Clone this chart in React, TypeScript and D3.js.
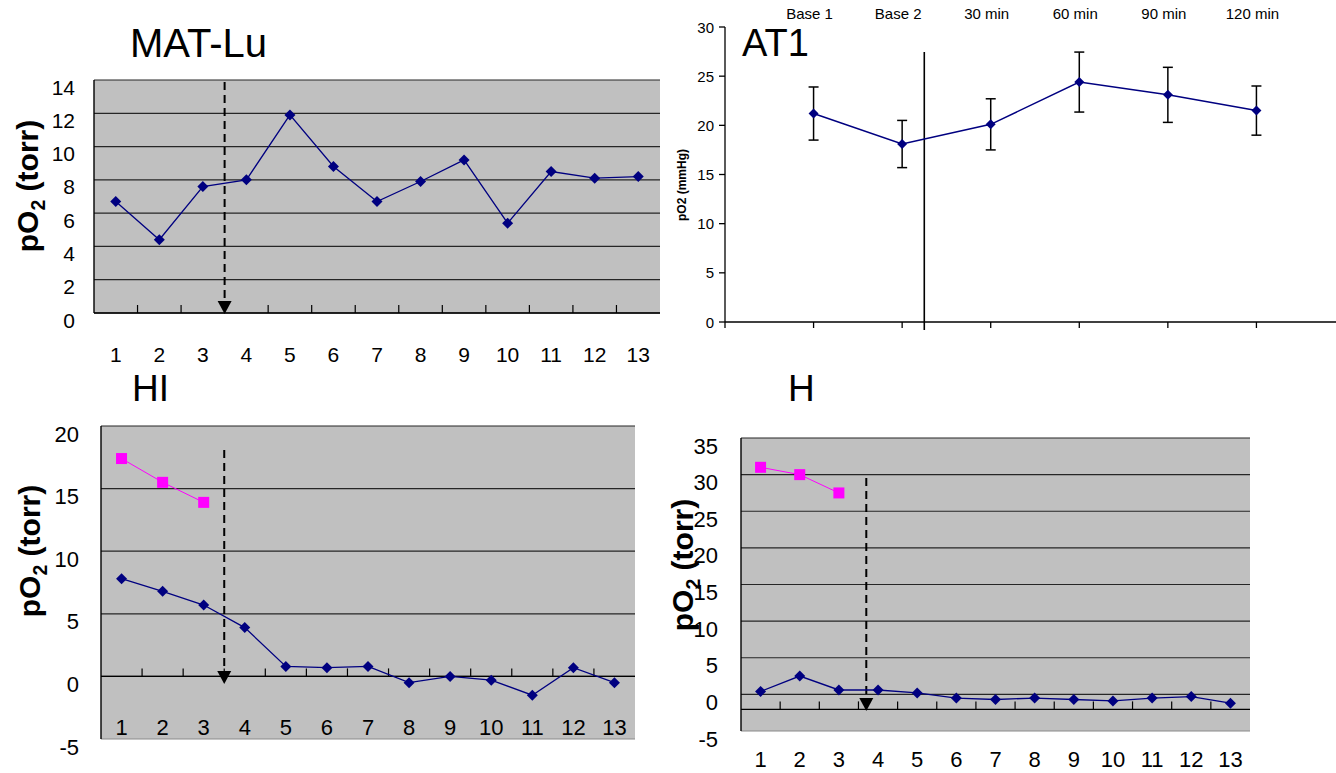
import React from 'react'
import * as d3 from 'd3'

// categories and values
const sampleLabels = ['1', '2', '3', '4', '5', '6', '7', '8', '9', '10', '11', '12', '13']

const matLuValues = [6.7, 4.4, 7.6, 8.0, 11.9, 8.8, 6.7, 7.9, 9.2, 5.4, 8.5, 8.1, 8.2]
const matLuTicks = [0, 2, 4, 6, 8, 10, 12, 14]

const hiValues = [7.8, 6.8, 5.7, 3.9, 0.8, 0.7, 0.8, -0.5, 0.0, -0.3, -1.5, 0.7, -0.5]
const hiBaseline = [17.4, 15.5, 13.9]
const hiTicks = [-5, 0, 5, 10, 15, 20]

const hValues = [0.4, 2.5, 0.6, 0.6, 0.2, -0.5, -0.7, -0.5, -0.7, -0.9, -0.5, -0.3, -1.2]
const hBaseline = [31.0, 30.0, 27.5]
const hTicks = [-5, 0, 5, 10, 15, 20, 25, 30, 35]

const at1Labels = ['Base 1', 'Base 2', '30 min', '60 min', '90 min', '120 min']
const at1Mean = [21.2, 18.1, 20.1, 24.4, 23.1, 21.5]
const at1Err = [2.7, 2.4, 2.6, 3.05, 2.8, 2.5]
const at1Ticks = [0, 5, 10, 15, 20, 25, 30]

const FONT = 'Liberation Sans, Arial, sans-serif'
const NAVY = '#000080'
const MAGENTA = '#FF00FF'

const diamond = (x, y, r) => `M${x},${y - r}L${x + r},${y}L${x},${y + r}L${x - r},${y}Z`

function PO2Label({ x, y, size }) {
  return (
    <text transform={`translate(${x},${y}) rotate(-90)`} textAnchor="middle"
      fontFamily={FONT} fontWeight="bold" fontSize={size}>
      pO<tspan fontSize={size * 0.65} dy={size * 0.22}>2</tspan>
      <tspan dy={-size * 0.22}> (torr)</tspan>
    </text>
  )
}

function GrayPanel({ box, domain, ticks, axisAt, arrow, labelY, fontSize, tickRight, tickDy,
  title, titleX, titleY, titleSize, ylabX, ylabY, values, baseline, bottomBorder }) {
  const x = d3.scaleLinear().domain([0.5, sampleLabels.length + 0.5]).range([box.left, box.right])
  const y = d3.scaleLinear().domain(domain).range([box.bottom, box.top])
  const line = d3.line().x((d, i) => x(i + 1)).y(d => y(d))
  const axisY = y(axisAt)
  const ax = x(arrow.at)

  return (
    <g>
      <text x={titleX} y={titleY} fontFamily={FONT} fontSize={titleSize}>{title}</text>
      <rect x={box.left} y={box.top} width={box.right - box.left} height={box.bottom - box.top} fill="#C0C0C0" />
      {ticks.filter(t => t !== domain[0] || !bottomBorder).map(t => (
        <line key={t} x1={box.left} x2={box.right} y1={y(t)} y2={y(t)} stroke="#262626" strokeWidth={1.2} />
      ))}
      {bottomBorder && (
        <line x1={box.left} x2={box.right} y1={box.bottom} y2={box.bottom} stroke="#8a8a8a" strokeWidth={1.2} />
      )}
      {/* category axis, ticks between samples */}
      <line x1={box.left} x2={box.right} y1={axisY} y2={axisY} stroke="#000" strokeWidth={1.4} />
      {d3.range(1, sampleLabels.length).map(k => (
        <line key={k} x1={x(k + 0.5)} x2={x(k + 0.5)} y1={axisY} y2={axisY - 8} stroke="#000" strokeWidth={1.2} />
      ))}
      <line x1={box.left} x2={box.left} y1={box.top} y2={box.bottom} stroke="#000" strokeWidth={1.4} />
      {ticks.map(t => (
        <text key={t} x={tickRight} y={y(t) + tickDy} textAnchor="end" dominantBaseline="central"
          fontFamily={FONT} fontSize={fontSize}>{t}</text>
      ))}
      {sampleLabels.map((c, i) => (
        <text key={c} x={x(i + 1)} y={labelY} textAnchor="middle" fontFamily={FONT} fontSize={fontSize}>{c}</text>
      ))}

      {/* treatment arrow */}
      <line x1={ax} x2={ax} y1={arrow.top} y2={arrow.tip - 10} stroke="#000" strokeWidth={2} strokeDasharray="8,5" />
      <path d={`M${ax - 7},${arrow.tip - 13}L${ax + 7},${arrow.tip - 13}L${ax},${arrow.tip}Z`} fill="#000" />

      {baseline && (
        <g>
          <path d={line(baseline)} fill="none" stroke={MAGENTA} strokeWidth={1} />
          {baseline.map((v, i) => (
            <rect key={i} x={x(i + 1) - 5.5} y={y(v) - 5.5} width={11} height={11} fill={MAGENTA} />
          ))}
        </g>
      )}
      <path d={line(values)} fill="none" stroke={NAVY} strokeWidth={1.3} />
      {values.map((v, i) => (
        <path key={i} d={diamond(x(i + 1), y(v), 5.5)} fill={NAVY} />
      ))}
      <PO2Label x={ylabX} y={ylabY} size={30} />
    </g>
  )
}

function AT1Panel() {
  const x = d3.scaleLinear().domain([0, 7]).range([725, 1345])
  const y = d3.scaleLinear().domain([0, 30]).range([322, 27])
  const line = d3.line().x((d, i) => x(i + 1)).y(d => y(d))

  return (
    <g fontFamily={FONT}>
      <text x={742} y={56} fontSize={38}>AT1</text>
      {at1Labels.map(l => (
        <text key={l} x={x(at1Labels.indexOf(l) + 1) - 4} y={18.5} textAnchor="middle" fontSize={15}>{l}</text>
      ))}
      <line x1={x(0)} x2={x(0)} y1={y(30)} y2={y(0)} stroke="#000" strokeWidth={1.3} />
      <line x1={x(0)} x2={1336} y1={y(0)} y2={y(0)} stroke="#000" strokeWidth={1.3} />
      {at1Ticks.map(t => (
        <g key={t}>
          <line x1={x(0) - 6} x2={x(0)} y1={y(t)} y2={y(t)} stroke="#000" strokeWidth={1.3} />
          <text x={714} y={y(t)} textAnchor="end" dominantBaseline="central" fontSize={15}>{t}</text>
        </g>
      ))}
      {d3.range(0, 7).map(k => (
        <line key={k} x1={x(k)} x2={x(k)} y1={y(0)} y2={y(0) + 6} stroke="#000" strokeWidth={1.3} />
      ))}
      <line x1={x(2.25)} x2={x(2.25)} y1={52} y2={330} stroke="#000" strokeWidth={1.6} />
      <text transform={`translate(686,185) rotate(-90)`} textAnchor="middle" fontSize={12} fontWeight="bold">pO2 (mmHg)</text>

      {at1Mean.map((m, i) => (
        <g key={i} stroke="#000" strokeWidth={1.5}>
          <line x1={x(i + 1)} x2={x(i + 1)} y1={y(m - at1Err[i])} y2={y(m + at1Err[i])} />
          <line x1={x(i + 1) - 5} x2={x(i + 1) + 5} y1={y(m + at1Err[i])} y2={y(m + at1Err[i])} />
          <line x1={x(i + 1) - 5} x2={x(i + 1) + 5} y1={y(m - at1Err[i])} y2={y(m - at1Err[i])} />
        </g>
      ))}
      <path d={line(at1Mean)} fill="none" stroke={NAVY} strokeWidth={1.5} />
      {at1Mean.map((m, i) => (
        <path key={i} d={diamond(x(i + 1), y(m), 5)} fill={NAVY} />
      ))}
    </g>
  )
}

export default function App() {
  return (
    <svg width={1336} height={773} style={{ position: 'absolute', left: 0, top: 0, background: '#fff' }}>
      <GrayPanel
        box={{ left: 94, right: 660, top: 80, bottom: 313 }} domain={[0, 14]} ticks={matLuTicks} axisAt={0}
        arrow={{ at: 3.5, top: 82, tip: 314 }} labelY={362} fontSize={21} tickRight={75} tickDy={7}
        title="MAT-Lu" titleX={130} titleY={57} titleSize={40} ylabX={38} ylabY={186} values={matLuValues} />
      <AT1Panel />
      <GrayPanel
        box={{ left: 101, right: 635, top: 426, bottom: 739 }} domain={[-5, 20]} ticks={hiTicks} axisAt={0}
        arrow={{ at: 3.5, top: 450, tip: 684 }} labelY={735} fontSize={22} tickRight={79} tickDy={8}
        title="HI" titleX={132} titleY={401} titleSize={37} ylabX={40} ylabY={551} values={hiValues}
        baseline={hiBaseline} bottomBorder />
      <GrayPanel
        box={{ left: 741, right: 1250, top: 438, bottom: 731 }} domain={[-5, 35]} ticks={hTicks} axisAt={-2.05}
        arrow={{ at: 3.7, top: 478, tip: 711 }} labelY={767} fontSize={22} tickRight={718} tickDy={8}
        title="H" titleX={788} titleY={401} titleSize={37} ylabX={693} ylabY={565} values={hValues}
        baseline={hBaseline} bottomBorder />
    </svg>
  )
}
